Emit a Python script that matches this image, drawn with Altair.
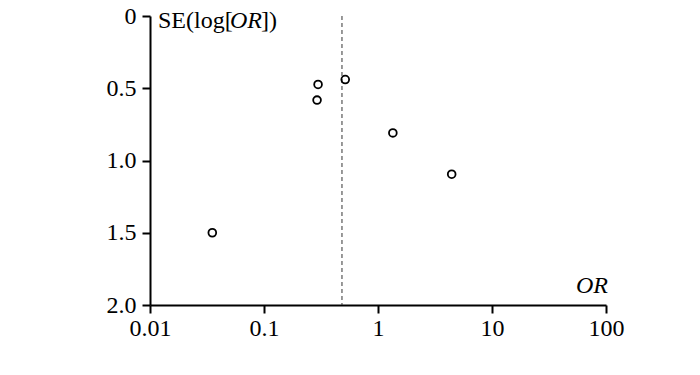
import altair as alt
import pandas as pd

# Data
or_vals = [0.0352, 0.298, 0.292, 0.516, 1.35, 4.43]
se_vals = [1.50, 0.474, 0.582, 0.44, 0.809, 1.095]
pooled_or = [0.483]
x_ticks = [0.01, 0.1, 1, 10, 100]
y_ticks = [0, 0.5, 1.0, 1.5, 2.0]

FONT = "Liberation Serif"
FS = 24

df = pd.DataFrame({"OR": or_vals, "SE": se_vals})
pool = pd.DataFrame({"OR": pooled_or})

xenc = alt.X(
    "OR:Q",
    scale=alt.Scale(type="log", domain=[0.01, 100]),
    axis=alt.Axis(values=x_ticks, format="~g", title=None, grid=False,
                  labelPadding=3, labelFlush=False),
)
yenc = alt.Y(
    "SE:Q",
    scale=alt.Scale(domain=[0, 2], reverse=True),
    axis=alt.Axis(
        values=y_ticks,
        labelExpr="datum.value == 0 ? '0' : format(datum.value, '.1f')",
        title=None,
        grid=False,
        labelPadding=6,
        labelFlush=False,
    ),
)

rule = alt.Chart(pool).mark_rule(
    color="#333333", strokeWidth=1, strokeDash=[4, 3]
).encode(x=xenc)

points = alt.Chart(df).mark_point(
    shape="circle", filled=False, color="black", strokeWidth=1.8, size=60, opacity=1
).encode(x=xenc, y=yenc)


def label(text, xpos, ypos, italic=False, align="left", size=FS):
    return alt.Chart(pd.DataFrame({"t": [text]})).mark_text(
        font=FONT,
        fontSize=size,
        fontStyle="italic" if italic else "normal",
        align=align,
        baseline="alphabetic",
        color="black",
    ).encode(text="t:N", x=alt.value(xpos), y=alt.value(ypos))


TS = 24
t1 = label("SE(log[", 8, 12, size=TS)
t2 = label("OR", 80, 12, italic=True, size=TS)
t3 = label("])", 111, 12, size=TS)
xt = label("OR", 458, 277, italic=True, align="right", size=TS)

chart = (
    alt.layer(rule, points, t1, t2, t3, xt)
    .properties(
        width=456,
        height=289,
        padding={"left": 142, "top": 8, "right": 40, "bottom": 50},
        autosize=alt.AutoSizeParams(type="none"),
    )
    .configure_view(stroke=None)
    .configure_axis(
        domainColor="black",
        domainWidth=2,
        tickColor="black",
        tickWidth=2,
        tickSize=8,
        labelFont=FONT,
        labelFontSize=FS,
        labelColor="black",
    )
)

chart.save("out.html", embed_options={"renderer": "svg", "actions": False})
